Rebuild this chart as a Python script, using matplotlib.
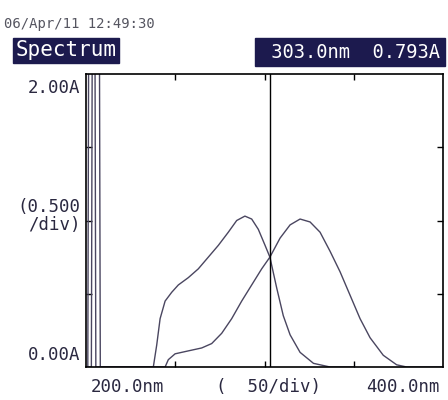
import numpy as np
import matplotlib.pyplot as plt

# spectrum 1 (peak near 289 nm); the spikes at the start go off scale
wl_a = [200, 201, 201.5, 205, 205.5, 237.7, 239.6, 241.5, 244.3, 248, 251.7,
        257.3, 262.9, 268.5, 274.1, 279.7, 284.4, 289, 292.8, 296.5, 300.3,
        303, 306.8, 310.5, 314.3, 319.9, 327.4, 336.7, 350]
abs_a = [0, 0, 2.3, 2.3, 0, 0, 0.15, 0.33, 0.45, 0.51, 0.56,
         0.61, 0.67, 0.75, 0.83, 0.92, 1.00, 1.03, 1.01, 0.94, 0.83,
         0.75, 0.54, 0.35, 0.22, 0.10, 0.025, 0.0, 0.0]

# spectrum 2 (peak near 320 nm)
wl_b = [200, 203, 203.5, 207.5, 208, 244.3, 246.1, 249.9, 257.3, 264.8, 270.4,
        276, 281.6, 287.2, 292.8, 298.4, 303, 308.7, 314.3, 319.9, 325.5,
        331.1, 336.7, 342.3, 347.9, 353.5, 359.1, 366.5, 374, 379.6, 400]
abs_b = [0, 0, 2.3, 2.3, 0, 0, 0.05, 0.09, 0.11, 0.13, 0.16,
         0.23, 0.33, 0.45, 0.56, 0.67, 0.75, 0.88, 0.97, 1.01, 0.99,
         0.92, 0.79, 0.65, 0.49, 0.33, 0.20, 0.08, 0.015, 0.0, 0.0]

cursor_wl = 303.0
cursor_abs = 0.793
x_ticks = [250, 300, 350]
y_ticks = [0.5, 1.0, 1.5]

ink = '#2a2840'
navy = '#1c1a4e'
mono = 'DejaVu Sans Mono'

fig = plt.figure(figsize=(4.48, 4.0), dpi=100)
ax = fig.add_axes([0.192, 0.0825, 0.797, 0.7325])

ax.plot(wl_a, abs_a, color='#4a4660', lw=1.0)
ax.plot(wl_b, abs_b, color='#4a4660', lw=1.0)
ax.axvline(cursor_wl, color='black', lw=1.0)

ax.set_xlim(200, 400)
ax.set_ylim(0, 2.0)
ax.set_xticks(x_ticks)
ax.set_yticks(y_ticks)
ax.tick_params(direction='in', length=4, width=1, top=True, right=True,
               labelbottom=False, labelleft=False, color='black')
for s in ax.spines.values():
    s.set_linewidth(1.2)
    s.set_color('black')

# header
fig.text(0.01, 0.94, '06/Apr/11 12:49:30', fontsize=10, family=mono,
         color='#555560', va='center')
fig.text(0.035, 0.875, 'Spectrum', fontsize=15, family=mono, color='white',
         va='center', bbox=dict(boxstyle='square,pad=0.12', fc=navy, ec=navy))
fig.text(0.982, 0.87, f' {cursor_wl:.1f}nm  {cursor_abs:.3f}A', fontsize=13.5,
         family=mono, color='white', ha='right', va='center',
         bbox=dict(boxstyle='square,pad=0.25', fc=navy, ec=navy))

# y labels
fig.text(0.18, 0.78, '2.00A', fontsize=12.5, family=mono, color=ink,
         ha='right', va='center')
fig.text(0.18, 0.46, '(0.500\n/div)', fontsize=12.5, family=mono, color=ink,
         ha='right', va='center', linespacing=0.95)
fig.text(0.18, 0.112, '0.00A', fontsize=12.5, family=mono, color=ink,
         ha='right', va='center')

# x labels
fig.text(0.285, 0.032, '200.0nm', fontsize=12.5, family=mono, color=ink,
         ha='center', va='center')
fig.text(0.6, 0.032, '(  50/div)', fontsize=12.5, family=mono, color=ink,
         ha='center', va='center')
fig.text(0.9, 0.032, '400.0nm', fontsize=12.5, family=mono, color=ink,
         ha='center', va='center')

fig.savefig('out.png', dpi=100)
